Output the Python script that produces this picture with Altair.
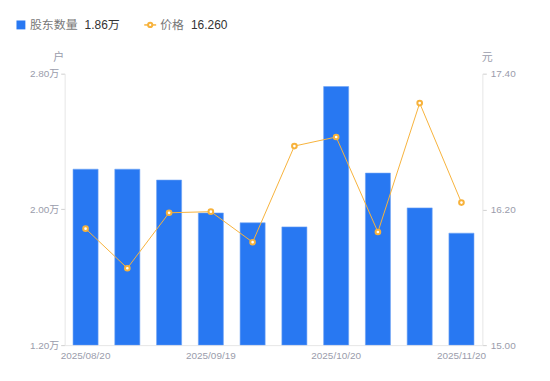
import altair as alt
import pandas as pd

dates = ["2025/08/20", "2025/08/31", "2025/09/10", "2025/09/19", "2025/09/30",
         "2025/10/10", "2025/10/20", "2025/10/31", "2025/11/10", "2025/11/20"]
holders = [2.237, 2.237, 2.173, 1.979, 1.921, 1.897, 2.724, 2.214, 2.009, 1.86]
prices = [16.03, 15.68, 16.17, 16.18, 15.91, 16.76, 16.84, 16.00, 17.14, 16.26]
shown_dates = ["2025/08/20", "2025/09/19", "2025/10/20", "2025/11/20"]

df = pd.DataFrame({"date": dates, "holders": holders, "price": prices})

FONT = "Liberation Sans, Noto Sans CJK SC, sans-serif"
BLUE = "#2878f2"
ORANGE = "#f7b23b"
GRAY = "#9a9cab"

xenc = alt.X("date:N", sort=dates,
             scale=alt.Scale(paddingInner=0.4, paddingOuter=0.2),
             axis=alt.Axis(title=None, labelAngle=0, ticks=False, domainColor="#e6e6e6",
                           labelColor=GRAY, labelFont=FONT, labelFontSize=10, labelPadding=5,
                           values=shown_dates, grid=False, labelOverlap=False))

bars = alt.Chart(df).mark_bar(color=BLUE, stroke="#6fa3f5", strokeWidth=0.6, clip=True).encode(
    x=xenc,
    y=alt.Y("holders:Q", scale=alt.Scale(domain=[1.2, 2.8], nice=False, zero=False),
            axis=alt.Axis(title=None, values=[1.2, 2.0, 2.8], grid=False,
                          labelExpr="format(datum.value, '.2f') + '万'",
                          domainColor="#e6e6e6", tickColor="#d0d0d0", tickSize=4,
                          labelColor=GRAY, labelFont=FONT, labelFontSize=10, labelPadding=2)),
    y2=alt.datum(1.2),
)

yprice = alt.Y("price:Q", scale=alt.Scale(domain=[15.0, 17.4], nice=False, zero=False),
               axis=alt.Axis(title=None, orient="right", values=[15.0, 16.2, 17.4], grid=False,
                             format=".2f", domainColor="#e6e6e6", tickColor="#d0d0d0", tickSize=4,
                             labelColor=GRAY, labelFont=FONT, labelFontSize=10, labelPadding=4))

line = alt.Chart(df).mark_line(color=ORANGE, strokeWidth=1).encode(x=xenc, y=yprice)
pts = alt.Chart(df).mark_point(filled=True, fill="white", stroke=ORANGE, strokeWidth=2,
                               size=22, opacity=1).encode(x=xenc, y=yprice)
price_layer = alt.layer(line, pts)

one = pd.DataFrame({"a": [0]})
def txt(s, x, y, color, size=12, align="left"):
    return alt.Chart(one).mark_text(text=s, font=FONT, fontSize=size, color=color,
                                    align=align, baseline="middle").encode(
        x=alt.value(x), y=alt.value(y))

legend_sq = alt.Chart(one).mark_square(color=BLUE, size=80, opacity=1).encode(
    x=alt.value(-44), y=alt.value(-49))
legend_ln = alt.Chart(one).mark_rule(color=ORANGE, strokeWidth=1.5).encode(
    x=alt.value(80), x2=alt.value(92), y=alt.value(-49))
legend_pt = alt.Chart(one).mark_point(filled=True, fill="white", stroke=ORANGE,
                                      strokeWidth=2, size=18, opacity=1).encode(
    x=alt.value(86), y=alt.value(-49))

labels = [
    txt("股东数量", -35, -49, "#777777"),
    txt("1.86万", 20, -49, "#333333"),
    txt("价格", 96, -49, "#777777"),
    txt("16.260", 127, -49, "#333333"),
    txt("户", -6, -16, GRAY, 11, "center"),
    txt("元", 425, -16, GRAY, 11, "center"),
]

chart = alt.layer(bars, price_layer, legend_sq, legend_ln, legend_pt, *labels).resolve_scale(
    y="independent"
).properties(
    width=420, height=273,
    autosize=alt.AutoSizeParams(type="none"),
    padding={"left": 57, "top": 65, "right": 60, "bottom": 30},
).configure_view(stroke=None)

chart.save("out.html", embed_options={"renderer": "svg", "actions": False})
